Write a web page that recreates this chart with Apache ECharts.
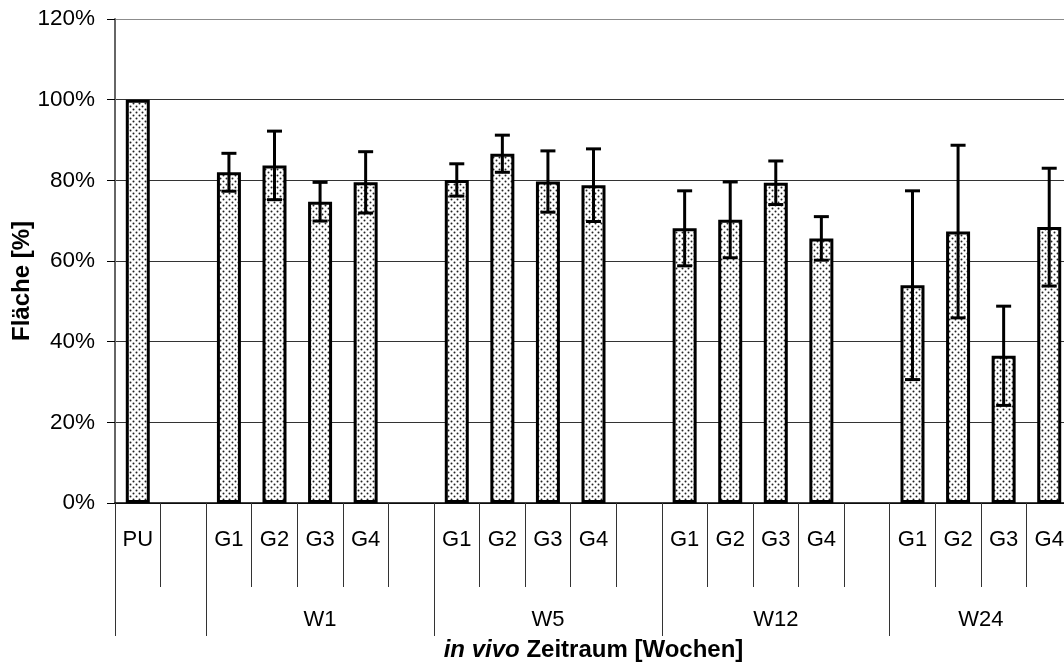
<!DOCTYPE html>
<html><head><meta charset="utf-8">
<script src="https://cdn.jsdelivr.net/npm/echarts@6/dist/echarts.min.js"></script>
<style>html,body{margin:0;padding:0;background:#fff}#c{width:1064px;height:666px}</style>
</head><body><div id="c"></div>
<script>
// ---- data ----
const categories = ['PU','','G1','G2','G3','G4','','G1','G2','G3','G4','','G1','G2','G3','G4','','G1','G2','G3','G4'];
const values = [100,null,82.0,83.7,74.7,79.5,null,80.1,86.6,79.7,78.8,null,68.1,70.2,79.4,65.6,null,54.0,67.3,36.5,68.4];
const errors = [null,null,4.7,8.5,4.8,7.6,null,4.0,4.6,7.6,9.0,null,9.3,9.4,5.4,5.4,null,23.4,21.4,12.3,14.6];
const groupNames = ['', 'W1', 'W5', 'W12', 'W24'];
const groupStart = [0, 2, 7, 12, 17];
const groupEnd = [1, 6, 11, 16, 20];
const yTickValues = [0, 20, 40, 60, 80, 100, 120];
const yTitle = 'Fläche [%]';
const xTitleItalic = 'in vivo';
const xTitleRest = 'Zeitraum [Wochen]';

// ---- layout/style ----
const FONT = "'Liberation Sans', Arial, Helvetica, sans-serif";
const gridLeft = 115, gridTop = 19, gridWidth = 957, gridHeight = 484;
const band = gridWidth / categories.length;

// pattern fill (dotted)
const pat = document.createElement('canvas');
pat.width = 6; pat.height = 6;
const pc = pat.getContext('2d');
pc.fillStyle = '#fff'; pc.fillRect(0, 0, 6, 6);
pc.fillStyle = '#222';
pc.beginPath(); pc.arc(1.5, 1.5, 1.0, 0, Math.PI * 2); pc.fill();
pc.beginPath(); pc.arc(4.5, 4.5, 1.0, 0, Math.PI * 2); pc.fill();

// group-level labels
const groupLabels = categories.map(() => '');
const groupShift = categories.map(() => 0);
groupNames.forEach((n, g) => {
  if (!n) return;
  const mid = (groupStart[g] + groupEnd[g]) / 2;
  const idx = Math.floor(mid);
  groupLabels[idx] = n;
  groupShift[idx] = mid - idx;
});

const errData = [];
values.forEach((v, i) => { if (v != null && errors[i] != null) errData.push([i, v, errors[i]]); });

const ymax = yTickValues[yTickValues.length - 1];
const splitColors = yTickValues.map((t) => t === ymax ? '#8c8c8c' : '#333');

const chart = echarts.init(document.getElementById('c'));
chart.setOption({
  animation: false,
  backgroundColor: '#fff',
  textStyle: { fontFamily: FONT },
  grid: { left: gridLeft, top: gridTop, width: gridWidth, height: gridHeight, outerBoundsMode: 'none', containLabel: false },
  xAxis: [
    {
      type: 'category', data: categories, position: 'bottom',
      axisLine: { show: true, lineStyle: { color: '#000', width: 1.5 } },
      axisTick: { show: true, interval: 0, length: 84, lineStyle: { color: '#333', width: 1 } },
      axisLabel: { interval: 0, margin: 26, fontSize: 22, color: '#000', fontFamily: FONT },
      splitLine: { show: false }
    },
    {
      type: 'category', data: groupLabels, position: 'bottom',
      axisLine: { show: false },
      axisTick: { show: true, interval: (i) => groupStart.indexOf(i) >= 0, length: 133, lineStyle: { color: '#333', width: 1 } },
      axisLabel: {
        interval: 0, margin: 106, fontSize: 22, color: '#000', fontFamily: FONT,
        formatter: (val, idx) => groupShift[idx] ? '{s|' + val + '}' : val,
        rich: { s: { padding: [0, 0, 0, 2 * 0.5 * band], fontSize: 22, fontFamily: FONT, color: '#000' } }
      },
      name: '{i|' + xTitleItalic + '}  {b|' + xTitleRest + '}',
      nameLocation: 'middle', nameGap: 135,
      nameTextStyle: {
        rich: {
          i: { fontSize: 24, fontWeight: 'bold', fontStyle: 'italic', fontFamily: FONT, color: '#000' },
          b: { fontSize: 24, fontWeight: 'bold', fontFamily: FONT, color: '#000' }
        }
      },
      splitLine: { show: false }
    }
  ],
  yAxis: {
    type: 'value', min: 0, max: ymax, interval: 20,
    axisLine: { show: true, lineStyle: { color: '#666', width: 2 } },
    axisTick: { show: true, length: 8, lineStyle: { color: '#000', width: 1 } },
    axisLabel: { formatter: '{value}%', fontSize: 22.5, margin: 20, color: '#000', fontFamily: FONT },
    splitLine: { show: true, lineStyle: { color: splitColors, width: 1 } }
  },
  graphic: [
    {
      type: 'text', x: 22, y: 281, rotation: Math.PI / 2,
      style: { text: yTitle, font: 'bold 24px ' + FONT, fill: '#000', textAlign: 'center', textVerticalAlign: 'middle' }
    }
  ],
  series: [
    {
      type: 'bar', xAxisIndex: 0, yAxisIndex: 0, data: values, barWidth: 24,
      itemStyle: { color: { image: pat, repeat: 'repeat' }, borderColor: '#000', borderWidth: 3 },
      z: 3
    },
    {
      type: 'custom', xAxisIndex: 0, yAxisIndex: 0, data: errData, z: 5,
      renderItem: (params, api) => {
        const x = api.value(0), v = api.value(1), e = api.value(2);
        const top = api.coord([x, v + e]);
        const bot = api.coord([x, v - e]);
        const cap = 7.5;
        const st = { stroke: '#000', lineWidth: 3 };
        return {
          type: 'group', children: [
            { type: 'line', shape: { x1: top[0], y1: top[1], x2: bot[0], y2: bot[1] }, style: st },
            { type: 'line', shape: { x1: top[0] - cap, y1: top[1], x2: top[0] + cap, y2: top[1] }, style: st },
            { type: 'line', shape: { x1: bot[0] - cap, y1: bot[1], x2: bot[0] + cap, y2: bot[1] }, style: st }
          ]
        };
      }
    }
  ]
});
</script>
</body></html>
